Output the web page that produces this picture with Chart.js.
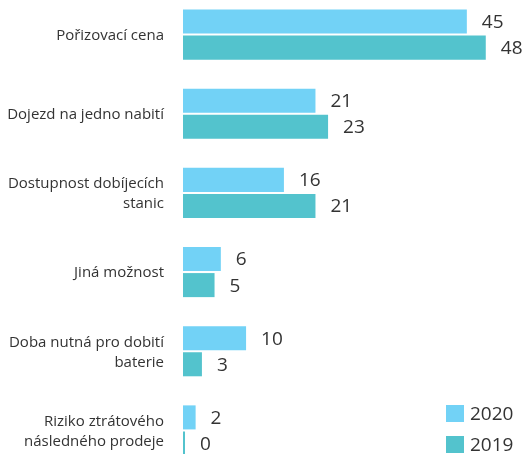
<!DOCTYPE html>
<html lang="cs">
<head>
    <meta charset="UTF-8">
    <title>Bariéry nákupu elektromobilu</title>
    <script src="https://cdn.jsdelivr.net/npm/chart.js"></script>
    <style>
        html, body {
            margin: 0;
            padding: 0;
            background: #fff;
            overflow: hidden;
            width: 527px;
            height: 454px;
        }
        #wrap {
            position: absolute;
            left: 0;
            top: -5px;
            width: 527px;
            height: 475px;
        }
        /* legend in the bottom right corner */
        #legend {
            position: absolute;
            left: 446px;
            top: 404px;
            font-family: "Open Sans", sans-serif;
            font-size: 19px;
            color: #333;
        }
        .item {
            position: relative;
            height: 31px;
            padding-left: 24px;
            line-height: 18px;
        }
        .swatch {
            position: absolute;
            left: 0;
            top: 1px;
            width: 18px;
            height: 17px;
        }
    </style>
</head>
<body>
    <div id="wrap"><canvas id="chart"></canvas></div>
    <div id="legend">
        <div class="item"><span class="swatch" style="background:#72d2f6"></span>2020</div>
        <div class="item"><span class="swatch" style="background:#53c3cd"></span>2019</div>
    </div>
    <script>
        // categories (multi-line where the reference wraps)
        var categories = [
            'Pořizovací cena',
            'Dojezd na jedno nabití',
            ['Dostupnost dobíjecích', 'stanic'],
            'Jiná možnost',
            ['Doba nutná pro dobití', 'baterie'],
            ['Riziko ztrátového', 'následného prodeje']
        ];
        var values2020 = [45, 21, 16, 6, 10, 2];
        var values2019 = [48, 23, 21, 5, 3, 0];
        var seriesNames = ['2020', '2019'];
        var seriesColors = ['#72d2f6', '#53c3cd'];

        // category names drawn right-aligned next to the y axis
        var categoryLabels = {
            id: 'categoryLabels',
            afterDraw: function(chart) {
                var ctx = chart.ctx;
                var y = chart.scales.y;
                var right = chart.chartArea.left - 19;
                ctx.save();
                ctx.font = '15px "Open Sans", sans-serif';
                ctx.fillStyle = '#333';
                ctx.textAlign = 'right';
                ctx.textBaseline = 'middle';
                chart.data.labels.forEach(function(label, i) {
                    var lines = Array.isArray(label) ? label : [label];
                    var c = y.getPixelForTick(i) + 1;
                    var lh = 20;
                    var start = c - (lines.length - 1) * lh / 2;
                    lines.forEach(function(line, k) {
                        ctx.fillText(line, right, start + k * lh);
                    });
                });
                ctx.restore();
            }
        };

        // simple value labels at the end of each bar
        var valueLabels = {
            id: 'valueLabels',
            afterDatasetsDraw: function(chart) {
                var ctx = chart.ctx;
                ctx.save();
                ctx.font = '19px "Open Sans", sans-serif';
                ctx.fillStyle = '#333';
                ctx.textAlign = 'left';
                ctx.textBaseline = 'middle';
                chart.data.datasets.forEach(function(ds, i) {
                    chart.getDatasetMeta(i).data.forEach(function(bar, j) {
                        ctx.fillText(ds.data[j], bar.x + 15, bar.y + 1);
                    });
                });
                ctx.restore();
            }
        };

        new Chart(document.getElementById('chart'), {
            type: 'bar',
            data: {
                labels: categories,
                datasets: [
                    { label: seriesNames[0], data: values2020, backgroundColor: seriesColors[0] },
                    { label: seriesNames[1], data: values2019, backgroundColor: seriesColors[1] }
                ]
            },
            options: {
                indexAxis: 'y',
                responsive: true,
                maintainAspectRatio: false,
                animation: false,
                categoryPercentage: 0.658,
                barPercentage: 0.923,
                minBarLength: 2,
                layout: { padding: { top: 0, bottom: 0, left: 0, right: 16 } },
                plugins: {
                    legend: { display: false },
                    tooltip: { enabled: false }
                },
                scales: {
                    x: {
                        display: false,
                        min: 0,
                        max: 52
                    },
                    y: {
                        grid: { display: false },
                        border: { display: false },
                        ticks: { display: false },
                        afterFit: function(scale) { scale.width = 183; }
                    }
                }
            },
            plugins: [valueLabels, categoryLabels]
        });
    </script>
</body>
</html>
